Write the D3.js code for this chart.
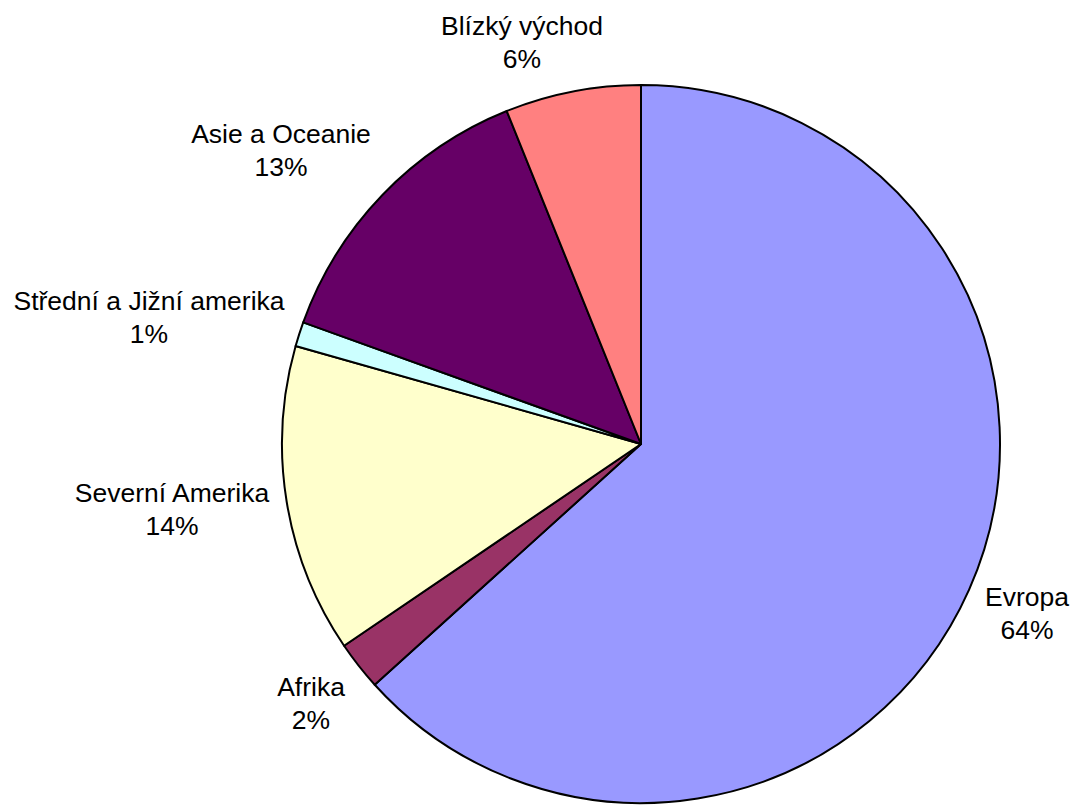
<!DOCTYPE html>
<html>
<head>
<meta charset="utf-8">
<script src="https://cdn.jsdelivr.net/npm/d3@7"></script>
<style>
  html, body { margin: 0; padding: 0; background: #ffffff; }
  svg { display: block; }
</style>
</head>
<body>
<svg id="chart" width="1075" height="805"></svg>
<script>
// ---- data ----
const categories = ["Evropa", "Afrika", "Severní Amerika", "Střední a Jižní amerika", "Asie a Oceanie", "Blízký východ"];
const shares = [63.3, 2.2, 13.9, 1.1, 13.4, 6.1];
const percentLabels = ["64%", "2%", "14%", "1%", "13%", "6%"];
const colors = ["#9999FF", "#993366", "#FFFFCC", "#CCFFFF", "#660066", "#FF8080"];

// ---- layout (not data) ----
const W = 1075, H = 805;
const cx = 641, cy = 444, radius = 359;
// label anchor offsets from pie centre: [dx of text centre, dy of first baseline]
const labelOffsets = [[386, 162], [-330, 252], [-469, 58], [-492, -134], [-360, -301], [-119, -409]];
const fontSize = 26.5, lineGap = 33;

const svg = d3.select("#chart");
const g = svg.append("g").attr("transform", `translate(${cx},${cy})`);

const table = categories.map((c, i) => ({ name: c, value: shares[i], label: percentLabels[i], color: colors[i], off: labelOffsets[i] }));

const pie = d3.pie().value(d => d.value).sort(null).startAngle(0).endAngle(2 * Math.PI);
const arc = d3.arc().innerRadius(0).outerRadius(radius);

g.selectAll("path.slice")
  .data(pie(table))
  .join("path")
  .attr("class", "slice")
  .attr("d", arc)
  .attr("fill", d => d.data.color)
  .attr("stroke", "#000")
  .attr("stroke-width", 2)
  .attr("stroke-linejoin", "round");

const labels = g.selectAll("text.lbl")
  .data(table)
  .join("text")
  .attr("class", "lbl")
  .attr("text-anchor", "middle")
  .attr("font-family", "'Liberation Sans', Arial, sans-serif")
  .attr("font-size", fontSize)
  .attr("fill", "#000");

labels.append("tspan")
  .attr("x", d => d.off[0])
  .attr("y", d => d.off[1])
  .text(d => d.name);
labels.append("tspan")
  .attr("x", d => d.off[0])
  .attr("y", d => d.off[1] + lineGap)
  .text(d => d.label);
</script>
</body>
</html>
